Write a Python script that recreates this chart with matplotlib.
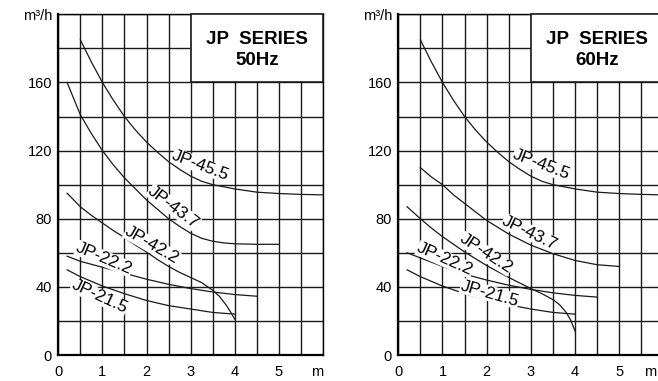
import matplotlib
matplotlib.use('Agg')
import matplotlib.pyplot as plt
from matplotlib.patches import Rectangle
import numpy as np

plt.rcParams['font.family'] = ['Liberation Sans', 'DejaVu Sans']

# ---- data (flow m3/h vs head m) ----
x_tick_labels = ['0', '1', '2', '3', '4', '5', 'm']
y_tick_labels = ['0', '40', '80', '120', '160', 'm³/h']

# 50Hz
x455_50 = [0.5, 0.75, 1, 1.25, 1.5, 1.75, 2, 2.25, 2.5, 2.75, 3, 3.25, 3.5, 4, 4.5, 5, 5.5, 6]
y455_50 = [185, 172, 160, 149.5, 140, 132, 125, 119, 113.5, 109, 105, 102, 100, 97.5, 95.6, 94.8, 94.3, 94]
x437_50 = [0.2, 0.5, 0.75, 1, 1.25, 1.5, 1.75, 2, 2.25, 2.5, 2.75, 3, 3.25, 3.5, 3.75, 4, 4.5, 5]
y437_50 = [160, 141, 130, 120, 111.5, 104, 97.5, 91, 85.5, 80, 75.5, 71.5, 68.5, 66.8, 65.8, 65.3, 65, 65]
x422_50 = [0.2, 0.5, 0.75, 1, 1.25, 1.5, 1.75, 2, 2.25, 2.5, 2.75, 3, 3.25, 3.5, 3.65, 3.8, 3.9, 4]
y422_50 = [95, 87, 82, 77.5, 73, 69, 64.5, 60.5, 56, 52, 48.5, 45.5, 42.5, 38, 34.5, 29.5, 25.5, 21]
x222_50 = [0.2, 0.5, 1, 1.5, 2, 2.5, 3, 3.5, 4, 4.5]
y222_50 = [58, 55, 51.5, 48, 44.5, 41.5, 39, 37, 35.5, 34.5]
x215_50 = [0.2, 0.5, 1, 1.5, 2, 2.5, 3, 3.5, 4]
y215_50 = [50, 46, 40.5, 36, 32, 29, 27, 25, 24]

# 60Hz
x455_60 = [0.5, 0.75, 1, 1.25, 1.5, 1.75, 2, 2.25, 2.5, 2.75, 3, 3.25, 3.5, 4, 4.5, 5, 5.5, 6]
y455_60 = [185, 172, 160, 149.5, 140, 132, 125, 119, 113.5, 109, 105, 102, 100, 97.5, 95.6, 94.8, 94.3, 94]
x437_60 = [0.5, 0.75, 1, 1.25, 1.5, 1.75, 2, 2.5, 3, 3.5, 4, 4.5, 5]
y437_60 = [110, 104.5, 100, 94, 89, 84, 79, 71, 64.5, 59.5, 55.5, 53, 52]
x422_60 = [0.2, 0.5, 0.75, 1, 1.25, 1.5, 1.75, 2, 2.5, 3, 3.25, 3.5, 3.65, 3.8, 3.9, 4]
y422_60 = [87, 80, 74.5, 69.5, 65, 60.5, 56.5, 52.5, 45.5, 39, 36, 32.5, 29.5, 25, 20.5, 14]
x222_60 = [0.2, 0.5, 1, 1.5, 2, 2.5, 3, 3.5, 4, 4.5]
y222_60 = [60, 57, 52, 47.5, 44, 41, 38.5, 36.5, 35, 34]
x215_60 = [0.2, 0.5, 1, 1.5, 2, 2.5, 3, 3.5, 4]
y215_60 = [50, 46, 40.5, 36, 32.5, 29.5, 27, 25, 24]

names = ['JP-45.5', 'JP-43.7', 'JP-42.2', 'JP-22.2', 'JP-21.5']


def draw_panel(ax, curves, labels, freq, m_inside=False):
    ax.set_xlim(0, 6)
    ax.set_ylim(0, 200)
    ax.set_xticks(np.arange(0, 7, 1))
    ax.set_xticks(np.arange(0, 6.01, 0.5), minor=True)
    ax.set_yticks(np.arange(0, 201, 40))
    ax.set_yticks(np.arange(0, 201, 20), minor=True)
    xlabs = list(x_tick_labels)
    if m_inside:
        # panel runs off the image edge, so put the unit where it stays visible
        xlabs[-1] = ''
        ax.annotate(x_tick_labels[-1], xy=(1, 0), xycoords='axes fraction',
                    xytext=(-14, -7.5), textcoords='offset points',
                    ha='left', va='top', fontsize=10.5)
    ax.set_xticklabels(xlabs, fontsize=10.5)
    ax.set_yticklabels(y_tick_labels, fontsize=10.5)
    ax.get_xticklabels()[-1].set_horizontalalignment('right')
    ax.tick_params(which='both', length=0)
    ax.tick_params(axis='x', pad=7.5)
    ax.tick_params(axis='y', pad=4.5)
    ax.grid(which='both', color='#1a1a1a', linewidth=1.0)
    ax.set_axisbelow(True)
    for s in ['left', 'bottom']:
        ax.spines[s].set_linewidth(1.6)
    for s in ['top', 'right']:
        ax.spines[s].set_linewidth(1.0)

    for xs, ys in curves:
        ax.plot(xs, ys, color='#1a1a1a', linewidth=0.9, zorder=3)

    for name, (lx, ly, rot) in zip(names, labels):
        ax.text(lx, ly, name, rotation=rot, rotation_mode='anchor',
                ha='center', va='center', fontsize=12.5, zorder=4,
                bbox=dict(facecolor='white', edgecolor='none', pad=0.3))

    ax.add_patch(Rectangle((3, 160), 3, 40, facecolor='white', edgecolor='#1a1a1a',
                           linewidth=1.2, zorder=5, clip_on=False))
    ax.text(4.5, 185.5, 'JP  SERIES', ha='center', va='center', fontsize=13.5,
            fontweight='bold', zorder=6)
    ax.text(4.5, 173, freq, ha='center', va='center', fontsize=13.5,
            fontweight='bold', zorder=6)


fig = plt.figure(figsize=(6.58, 3.81), dpi=100)
ax1 = fig.add_axes([0.0886, 0.0682, 0.4023, 0.8942])
ax2 = fig.add_axes([0.6053, 0.0682, 0.403, 0.8942])

draw_panel(ax1,
           [(x455_50, y455_50), (x437_50, y437_50), (x422_50, y422_50),
            (x222_50, y222_50), (x215_50, y215_50)],
           [(3.23, 111.3, -21), (2.61, 86.7, -37), (2.12, 64.4, -30),
            (1.04, 56.6, -23), (0.93, 34.2, -25)],
           '50Hz')
draw_panel(ax2,
           [(x455_60, y455_60), (x437_60, y437_60), (x422_60, y422_60),
            (x222_60, y222_60), (x215_60, y215_60)],
           [(3.24, 111.7, -21), (2.98, 71.7, -26), (1.98, 59.5, -33),
            (1.06, 56.2, -24), (2.07, 36.1, -16)],
           '60Hz', m_inside=True)

fig.savefig('out.png', dpi=100)
plt.close(fig)
